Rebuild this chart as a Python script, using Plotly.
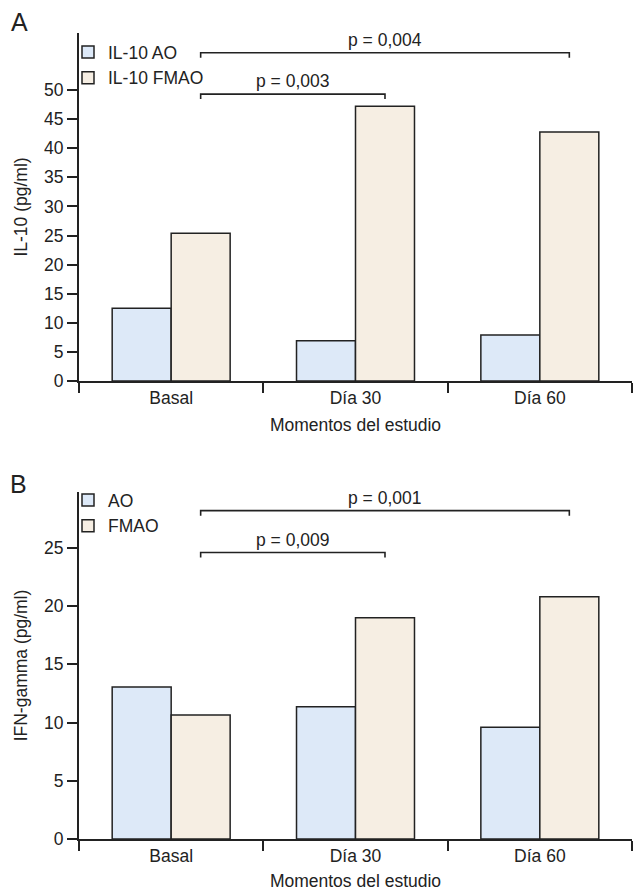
import plotly.graph_objects as go

categories = ["Basal", "Día 30", "Día 60"]

# Panel A: IL-10 (pg/ml)
il10_ao = [12.5, 6.9, 7.9]
il10_fmao = [25.4, 47.2, 42.8]
a_names = ["IL-10 AO", "IL-10 FMAO"]
a_ticks = [0, 5, 10, 15, 20, 25, 30, 35, 40, 45, 50]
a_brackets = [  # (from category, to category, height, label)
    ("Basal", "Día 30", 49.3, "p = 0,003"),
    ("Basal", "Día 60", 56.4, "p = 0,004"),
]

# Panel B: IFN-gamma (pg/ml)
ifn_ao = [13.05, 11.35, 9.6]
ifn_fmao = [10.65, 19.0, 20.8]
b_names = ["AO", "FMAO"]
b_ticks = [0, 5, 10, 15, 20, 25]
b_brackets = [
    ("Basal", "Día 30", 24.6, "p = 0,009"),
    ("Basal", "Día 60", 28.2, "p = 0,001"),
]

AO_COLOR = "#dde9f8"
FMAO_COLOR = "#f6eee3"
EDGE = "#222222"
TXT = "#222222"
FONT = "Liberation Sans, Arial, sans-serif"
FS = 17.5
BARGAP = 0.36

fig = go.Figure()

def add_panel(ao, fmao, names, xa, ya, legend):
    fig.add_trace(go.Bar(x=categories, y=ao, name=names[0], xaxis=xa, yaxis=ya,
                         marker=dict(color=AO_COLOR, line=dict(color=EDGE, width=1.5)),
                         legend=legend, hoverinfo="skip"))
    fig.add_trace(go.Bar(x=categories, y=fmao, name=names[1], xaxis=xa, yaxis=ya,
                         marker=dict(color=FMAO_COLOR, line=dict(color=EDGE, width=1.5)),
                         legend=legend, hoverinfo="skip"))

add_panel(il10_ao, il10_fmao, a_names, "x", "y", "legend")
add_panel(ifn_ao, ifn_fmao, b_names, "x2", "y2", "legend2")

# offset of the FMAO bar centre inside a category group
fm_off = (1 - BARGAP) / 4

def add_brackets(brackets, xref, yref, tick_len):
    for c0, c1, h, label in brackets:
        x0 = categories.index(c0) + fm_off
        x1 = categories.index(c1) + fm_off
        fig.add_shape(type="path", xref=xref, yref=yref,
                      path=f"M {x0},{h - tick_len} L {x0},{h} L {x1},{h} L {x1},{h - tick_len}",
                      line=dict(color=EDGE, width=1.6))
        fig.add_annotation(x=(x0 + x1) / 2, y=h, xref=xref, yref=yref, text=label,
                           showarrow=False, yanchor="bottom", yshift=1,
                           font=dict(family=FONT, size=FS, color=TXT))

add_brackets(a_brackets, "x", "y", 0.85)
add_brackets(b_brackets, "x2", "y2", 0.43)

W, H = 633, 891
def px_x(p):
    return p / W
def px_y(p):
    return 1 - p / H

axis_common = dict(showline=True, linecolor=EDGE, linewidth=2, ticks="outside",
                   tickcolor=EDGE, tickwidth=1.5, ticklen=10, showgrid=False,
                   zeroline=False, automargin=False,
                   tickfont=dict(family=FONT, size=FS, color=TXT))

fig.update_layout(
    width=W, height=H, autosize=False,
    margin=dict(l=0, r=0, t=0, b=0, pad=0),
    paper_bgcolor="white", plot_bgcolor="white",
    barmode="group", bargap=BARGAP, bargroupgap=0,
    font=dict(family=FONT, size=FS, color=TXT),
    xaxis=dict(domain=[px_x(79), px_x(632)], anchor="y", tickson="boundaries",
               categoryorder="array", categoryarray=categories,
               range=[-0.5, 2.5],
               title=dict(text="Momentos del estudio", standoff=12,
                          font=dict(family=FONT, size=FS, color=TXT)),
               **axis_common),
    yaxis=dict(domain=[px_y(381), px_y(33)], anchor="x", range=[0, 59.8],
               tickvals=a_ticks,
               title=dict(text="IL-10 (pg/ml)", standoff=12,
                          font=dict(family=FONT, size=FS, color=TXT)),
               **axis_common),
    xaxis2=dict(domain=[px_x(79), px_x(632)], anchor="y2", tickson="boundaries",
                categoryorder="array", categoryarray=categories,
                range=[-0.5, 2.5],
                title=dict(text="Momentos del estudio", standoff=11,
                           font=dict(family=FONT, size=FS, color=TXT)),
                **axis_common),
    yaxis2=dict(domain=[px_y(839), px_y(492)], anchor="x2", range=[0, 29.8],
                tickvals=b_ticks,
                title=dict(text="IFN-gamma (pg/ml)", standoff=12,
                           font=dict(family=FONT, size=FS, color=TXT)),
                **axis_common),
    legend=dict(x=px_x(68), y=px_y(34), xanchor="left", yanchor="top",
                bgcolor="rgba(0,0,0,0)", font=dict(family=FONT, size=FS, color=TXT),
                tracegroupgap=0, itemwidth=30),
    legend2=dict(x=px_x(68), y=px_y(482), xanchor="left", yanchor="top",
                 bgcolor="rgba(0,0,0,0)", font=dict(family=FONT, size=FS, color=TXT),
                 tracegroupgap=0, itemwidth=30),
    showlegend=True,
)

# panel letters
fig.add_annotation(x=px_x(9), y=px_y(22), xref="paper", yref="paper", text="A",
                   showarrow=False, xanchor="left", yanchor="middle",
                   font=dict(family=FONT, size=25, color=TXT))
fig.add_annotation(x=px_x(8), y=px_y(484), xref="paper", yref="paper", text="B",
                   showarrow=False, xanchor="left", yanchor="middle",
                   font=dict(family=FONT, size=25, color=TXT))

fig.write_html("out.html", config={"displayModeBar": False},
               post_script="document.body.style.margin='0';document.body.style.padding='0';")
